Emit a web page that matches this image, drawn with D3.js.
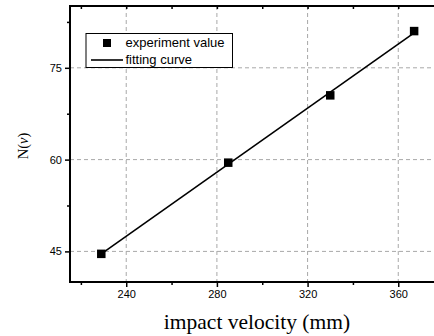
<!DOCTYPE html>
<html><head><meta charset="utf-8">
<script src="https://cdn.jsdelivr.net/npm/d3@7"></script>
<style>body{margin:0;background:#fff;overflow:hidden}svg{display:block}</style>
</head><body>
<script>
const expX = [229, 285, 330, 367];
const expY = [44.6, 59.5, 70.5, 81.0];
const fitX = [229, 367];
const fitY = [44.6, 80.7];
const xTicks = [240, 280, 320, 360];
const xMinor = [220, 260, 300, 340, 380];
const yTicks = [45, 60, 75];
const yMinor = [52.5, 67.5, 82.5];
const legendLabels = ["experiment value", "fitting curve"];

const W = 434, H = 336;
const L = 70, T = 6, B = 282;
const svg = d3.select("body").append("svg").attr("width", W).attr("height", H);
const x = d3.scaleLinear().domain([215.2, 385]).range([L, L + (385 - 215.2) * 2.267]);
const y = d3.scaleLinear().domain([40, 85.1]).range([B, T]);
const R = x.range()[1];

const g = svg.append("g");
g.selectAll(".gx").data(xTicks).join("line")
  .attr("x1", d => x(d)).attr("x2", d => x(d)).attr("y1", T).attr("y2", B)
  .attr("stroke", "#a8a8a8").attr("stroke-width", 1).attr("stroke-dasharray", "4,3");
g.selectAll(".gy").data(yTicks).join("line")
  .attr("x1", L).attr("x2", R).attr("y1", d => y(d)).attr("y2", d => y(d))
  .attr("stroke", "#a8a8a8").attr("stroke-width", 1).attr("stroke-dasharray", "4,3");

const xAxis = svg.append("g").attr("transform", `translate(0,${B})`)
  .call(d3.axisBottom(x).tickValues(xTicks).tickSize(5).tickPadding(3));
const xAxisMinor = svg.append("g").attr("transform", `translate(0,${B})`)
  .call(d3.axisBottom(x).tickValues(xMinor).tickSize(3).tickFormat(""));
const yAxis = svg.append("g").attr("transform", `translate(${L},0)`)
  .call(d3.axisLeft(y).tickValues(yTicks).tickSize(5).tickPadding(3));
const yAxisMinor = svg.append("g").attr("transform", `translate(${L},0)`)
  .call(d3.axisLeft(y).tickValues(yMinor).tickSize(3).tickFormat(""));
const xTop = svg.append("g").attr("transform", `translate(0,${T})`)
  .call(d3.axisTop(x).tickValues(xTicks.concat(xMinor)).tickSize(-3).tickFormat(""));
[xAxis, xAxisMinor, yAxis, yAxisMinor, xTop].forEach(a => {
  a.select(".domain").remove();
  a.selectAll(".tick line").attr("stroke", "#000").attr("stroke-width", 1.5);
  a.selectAll("text").attr("font-family", "Liberation Sans, Arial, sans-serif")
    .attr("font-size", 11).attr("fill", "#000");
});

svg.append("rect").attr("x", L).attr("y", T).attr("width", R - L).attr("height", B - T)
  .attr("fill", "none").attr("stroke", "#000").attr("stroke-width", 2);

const pts = fitX.map((v, i) => [v, fitY[i]]);
svg.append("path").attr("d", d3.line().x(d => x(d[0])).y(d => y(d[1]))(pts))
  .attr("fill", "none").attr("stroke", "#000").attr("stroke-width", 1.6);

const ms = 8.5;
svg.selectAll(".pt").data(expX.map((v, i) => [v, expY[i]])).join("rect")
  .attr("x", d => x(d[0]) - ms / 2).attr("y", d => y(d[1]) - ms / 2)
  .attr("width", ms).attr("height", ms).attr("fill", "#000");

const lg = svg.append("g");
lg.append("rect").attr("x", 86).attr("y", 33.5).attr("width", 146.5).attr("height", 34)
  .attr("fill", "#fff").attr("stroke", "#000").attr("stroke-width", 1);
lg.append("rect").attr("x", 103).attr("y", 39).attr("width", 8).attr("height", 8).attr("fill", "#000");
lg.append("line").attr("x1", 91).attr("x2", 123).attr("y1", 60).attr("y2", 60)
  .attr("stroke", "#000").attr("stroke-width", 1.6);
lg.selectAll("text").data(legendLabels).join("text")
  .attr("x", 125.5).attr("y", (d, i) => 47 + i * 16.5)
  .attr("font-family", "Liberation Sans, Arial, sans-serif").attr("font-size", 13)
  .attr("fill", "#000").text(d => d);

svg.append("text").attr("x", 257).attr("y", 329).attr("text-anchor", "middle")
  .attr("font-family", "Liberation Serif, Times New Roman, serif").attr("font-size", 21.5)
  .attr("fill", "#000").text("impact velocity (mm)");
const yl = svg.append("text").attr("text-anchor", "middle")
  .attr("transform", "translate(28,146) rotate(-90)")
  .attr("font-family", "Liberation Serif, Times New Roman, serif").attr("font-size", 14.5)
  .attr("fill", "#000");
yl.append("tspan").text("N(");
yl.append("tspan").attr("font-style", "italic").text("v");
yl.append("tspan").text(")");
</script>
</body></html>
